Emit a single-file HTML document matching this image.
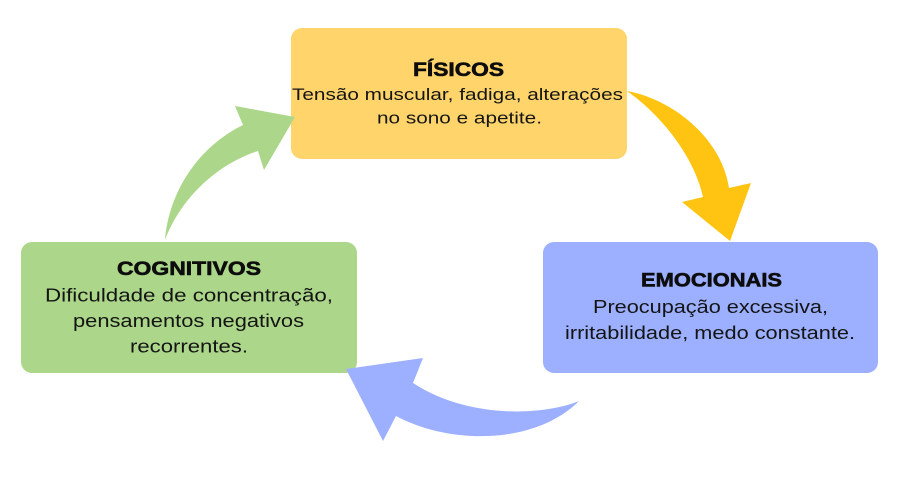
<!DOCTYPE html>
<html>
<head>
<meta charset="utf-8">
<style>
  html, body { margin: 0; padding: 0; background: #ffffff; }
  body { width: 900px; height: 500px; overflow: hidden; }
  svg { display: block; }
  .t { font-family: "Liberation Sans", "DejaVu Sans", sans-serif; font-weight: bold; font-size: 19px; fill: #0d0d0d; stroke: #0d0d0d; stroke-width: 0.6px; }
  .b { font-family: "Liberation Sans", "DejaVu Sans", sans-serif; font-size: 18px; fill: #141414; }
  .by { font-family: "Liberation Sans", "DejaVu Sans", sans-serif; font-size: 17px; fill: #141414; }
</style>
</head>
<body>
<svg width="900" height="500" viewBox="0 0 900 500" xmlns="http://www.w3.org/2000/svg">
  <rect x="0" y="0" width="900" height="500" fill="#ffffff"/>

  <!-- Boxes -->
  <rect x="291" y="28" width="336" height="131" rx="11" ry="11" fill="#FFD56B"/>
  <rect x="21" y="242" width="336" height="131" rx="11" ry="11" fill="#ACD78A"/>
  <rect x="543" y="242" width="335" height="131" rx="11" ry="11" fill="#9CB0FF"/>

  <!-- Arrows -->
  <!-- Yellow: FÍSICOS -> EMOCIONAIS -->
  <path d="M627,91 C675,100 722,140 729,188 L751,183 L730,241 L682,202 L703,197 C695,160 665,118 627,91 Z" fill="#FFC412"/>
  <!-- Blue: EMOCIONAIS -> COGNITIVOS -->
  <path d="M579,401 C545,415 470,420 413,383 L423,358 L346,369 L383,441 L396,416 C450,445 535,445 579,401 Z" fill="#9CB0FF"/>
  <!-- Green: COGNITIVOS -> FÍSICOS -->
  <path d="M165,240 C169,192 198,147 243,125 L235,106 L295,117 L264,170 L258,151 C215,165 180,200 165,240 Z" fill="#ACD78A"/>

  <!-- FÍSICOS text -->
  <text class="t" x="413" y="76" textLength="91" lengthAdjust="spacingAndGlyphs">FÍSICOS</text>
  <text class="by" x="292" y="100" textLength="331" lengthAdjust="spacingAndGlyphs">Tensão muscular, fadiga, alterações</text>
  <text class="by" x="377" y="123.5" textLength="165" lengthAdjust="spacingAndGlyphs">no sono e apetite.</text>

  <!-- COGNITIVOS text -->
  <text class="t" x="117" y="275" textLength="144" lengthAdjust="spacingAndGlyphs">COGNITIVOS</text>
  <text class="b" x="45" y="301.5" textLength="288" lengthAdjust="spacingAndGlyphs">Dificuldade de concentração,</text>
  <text class="b" x="73" y="327" textLength="231" lengthAdjust="spacingAndGlyphs">pensamentos negativos</text>
  <text class="b" x="130" y="352.5" textLength="118" lengthAdjust="spacingAndGlyphs">recorrentes.</text>

  <!-- EMOCIONAIS text -->
  <text class="t" x="641" y="286.5" textLength="141" lengthAdjust="spacingAndGlyphs">EMOCIONAIS</text>
  <text class="b" x="593" y="313" textLength="235" lengthAdjust="spacingAndGlyphs">Preocupação excessiva,</text>
  <text class="b" x="565" y="339" textLength="290" lengthAdjust="spacingAndGlyphs">irritabilidade, medo constante.</text>
</svg>
</body>
</html>
